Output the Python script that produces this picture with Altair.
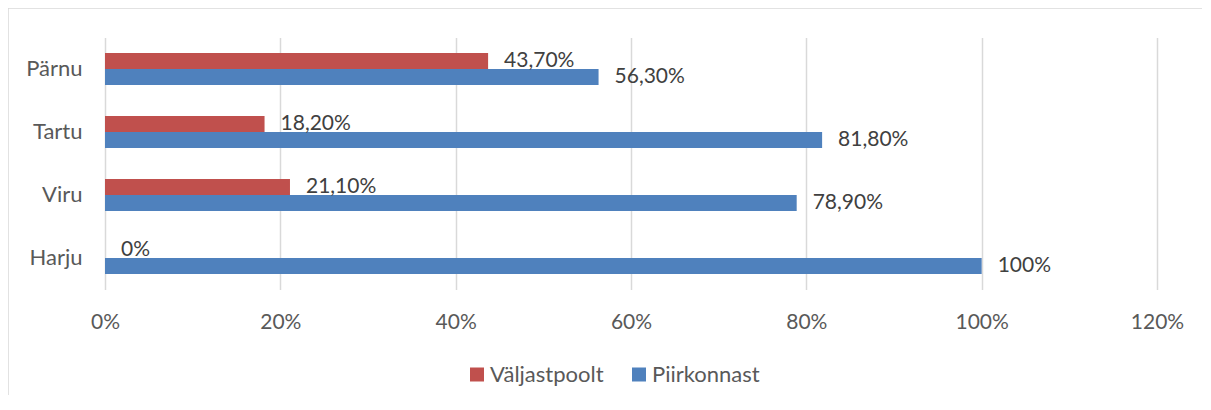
import altair as alt
import pandas as pd

regions = ["Pärnu", "Tartu", "Viru", "Harju"]
series = ["Väljastpoolt", "Piirkonnast"]
valjastpoolt = [43.7, 18.2, 21.1, 0]
piirkonnast = [56.3, 81.8, 78.9, 100]
labels_v = ["43,70%", "18,20%", "21,10%", "0%"]
labels_p = ["56,30%", "81,80%", "78,90%", "100%"]
x_ticks = [0, 20, 40, 60, 80, 100, 120]
colors = ["#C0504D", "#4F81BD"]

rows = []
for i, r in enumerate(regions):
    rows.append({"region": r, "series": series[0], "value": valjastpoolt[i], "label": labels_v[i]})
    rows.append({"region": r, "series": series[1], "value": piirkonnast[i], "label": labels_p[i]})
df = pd.DataFrame(rows)

FONT = "Lato"

base = alt.Chart(df).encode(
    y=alt.Y(
        "region:N",
        sort=regions,
        scale=alt.Scale(paddingInner=0.49, paddingOuter=0.245),
        axis=alt.Axis(
            title=None, domain=False, ticks=False, labelPadding=23,
            labelFontSize=22, labelFont=FONT, labelColor="#595959",
        ),
    ),
    yOffset=alt.YOffset("series:N", sort=series, scale=alt.Scale(paddingInner=0, paddingOuter=0)),
)

bars = base.mark_bar().encode(
    x=alt.X(
        "value:Q",
        scale=alt.Scale(domain=[0, 120], nice=False),
        axis=alt.Axis(
            values=x_ticks, labelExpr="datum.value + '%'", title=None,
            grid=True, gridColor="#d9d9d9", gridWidth=1.5, domain=False, ticks=False,
            labelFlush=False, labelPadding=22, labelFontSize=21, labelFont=FONT,
            labelColor="#595959",
        ),
    ),
    color=alt.Color(
        "series:N",
        sort=series,
        scale=alt.Scale(domain=series, range=colors),
        legend=alt.Legend(
            title=None, orient="none", legendX=361, legendY=326,
            direction="horizontal", symbolType="square", symbolSize=196,
            symbolStrokeWidth=0, labelFontSize=22, labelFont=FONT,
            labelColor="#595959", columnPadding=24, labelOffset=2, padding=0,
        ),
    ),
)

text = base.mark_text(
    align="left", baseline="middle", dx=16, fontSize=21, font=FONT, color="#404040"
).encode(x=alt.X("value:Q"), text="label:N")

border_df = pd.DataFrame({"a": [0]})
top_line = alt.Chart(border_df).mark_rule(color="#d9d9d9", strokeWidth=1.5).encode(
    x=alt.value(-97), x2=alt.value(1400), y=alt.value(-29.5)
)
left_line = alt.Chart(border_df).mark_rule(color="#d9d9d9", strokeWidth=1.5).encode(
    x=alt.value(-97), y=alt.value(-29.5), y2=alt.value(600)
)

chart = alt.layer(top_line, left_line, bars, text).properties(
    width=1052, height=252,
    autosize=alt.AutoSizeParams(type="none"),
    padding={"left": 97, "top": 29.5, "right": 45, "bottom": 105},
    background="white",
).configure_view(stroke=None)

chart.save("out.html", embed_options={"renderer": "svg", "actions": False})
